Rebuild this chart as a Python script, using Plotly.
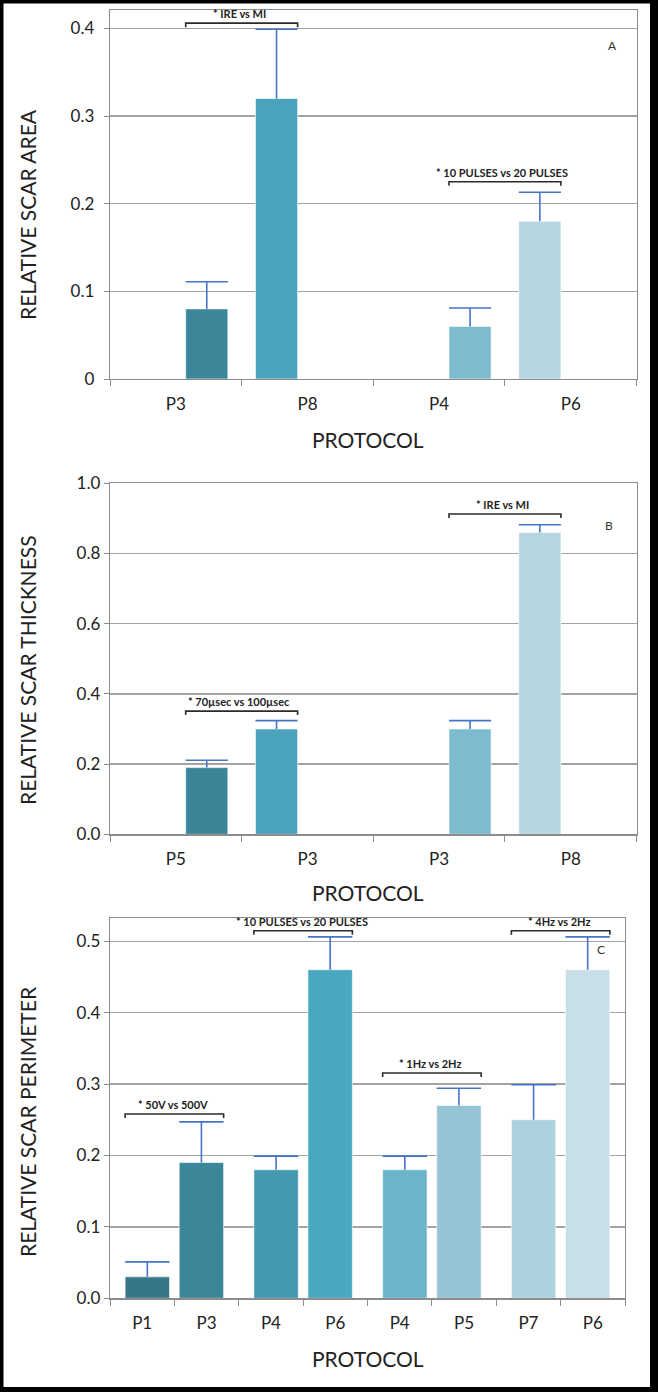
import plotly.graph_objects as go

W, H = 658, 1392

# ---------------- data ----------------
A_labels = ["P3", "P8", "P4", "P6"]
A_values = [0.08, 0.32, 0.06, 0.18]
A_errors = [0.031, 0.079, 0.021, 0.033]
A_colors = ["#3b8698", "#49a3bb", "#7ebbcf", "#b6d5e0"]
A_brackets = [(0, 1, 0.406, "* IRE vs MI"), (2, 3, 0.225, "* 10 PULSES vs 20 PULSES")]

B_labels = ["P5", "P3", "P3", "P8"]
B_values = [0.19, 0.30, 0.30, 0.86]
B_errors = [0.021, 0.024, 0.024, 0.022]
B_colors = ["#3a8597", "#4aa3ba", "#7fbbcf", "#b7d5e0"]
B_brackets = [(0, 1, 0.351, "* 70µsec vs 100µsec"), (2, 3, 0.9125, "* IRE vs MI")]

C_labels = ["P1", "P3", "P4", "P6", "P4", "P5", "P7", "P6"]
C_values = [0.03, 0.19, 0.18, 0.46, 0.18, 0.27, 0.25, 0.46]
C_errors = [0.021, 0.057, 0.019, 0.046, 0.019, 0.024, 0.049, 0.046]
C_colors = ["#377588", "#3b8799", "#4399b0", "#4aa7c0", "#6ab5cb", "#95c4d5", "#aed1de", "#c8dfe7"]
C_brackets = [(0, 1, 0.258, "* 50V vs 500V"), (2, 3, 0.5145, "* 10 PULSES vs 20 PULSES"),
              (4, 5, 0.3155, "* 1Hz vs 2Hz"), (6, 7, 0.5145, "* 4Hz vs 2Hz")]

panels = [
    dict(labels=A_labels, values=A_values, errors=A_errors, colors=A_colors, brackets=A_brackets,
         title="RELATIVE SCAR AREA", letter="A", letter_xy=(3.32, 0.381),
         box=(110, 636.6, 10, 379), yrange=[0, 0.421], dtick=0.1, tickformat="",
         shift=0.235, width=0.32, ystand=6, ytitle_y=215, xtitle_y=439),
    dict(labels=B_labels, values=B_values, errors=B_errors, colors=B_colors, brackets=B_brackets,
         title="RELATIVE SCAR THICKNESS", letter="B", letter_xy=(3.287, 0.881),
         box=(110, 636.6, 483.3, 834.3), yrange=[0, 1.0], dtick=0.2, tickformat=".1f",
         shift=0.235, width=0.32, ystand=0, ytitle_y=670, xtitle_y=893),
    dict(labels=C_labels, values=C_values, errors=C_errors, colors=C_colors, brackets=C_brackets,
         title="RELATIVE SCAR PERIMETER", letter="C", letter_xy=(7.127, 0.489),
         box=(110, 625, 918.3, 1298.3), yrange=[0, 0.532], dtick=0.1, tickformat=".1f",
         shift=0.08, width=0.69, ystand=0, ytitle_y=1122, xtitle_y=1358),
]

FONT = "Lato"
GRID = "#a3a3a3"
LINE = "#8c8c8c"
ERR = "#4675c6"
TXT = "#222222"

fig = go.Figure()
shapes = []
annotations = []

# white page on black frame
shapes.append(dict(type="rect", xref="paper", yref="paper", x0=3.5 / W, x1=650 / W,
                   y0=1 - 1387 / H, y1=1 - 3.5 / H, fillcolor="white", line=dict(width=0),
                   layer="below"))

for k, p in enumerate(panels):
    sfx = "" if k == 0 else str(k + 1)
    xa, ya = "x" + sfx, "y" + sfx
    n = len(p["labels"])
    idx = list(range(n))
    pos = [i + (p["shift"] if i % 2 == 0 else -p["shift"]) for i in idx]
    x0, x1, y0, y1 = p["box"]
    px_per_unit = (y1 - y0) / (p["yrange"][1] - p["yrange"][0])

    fig.add_trace(go.Bar(x=pos, y=p["values"], width=p["width"], xaxis=xa, yaxis=ya,
                         marker=dict(color=p["colors"], line=dict(color="rgba(255,255,255,0.6)", width=1)),
                         showlegend=False, hoverinfo="skip"))

    # upward-only error bars
    ex, ey = [], []
    hw = p["width"] / 2
    for c, v, e in zip(pos, p["values"], p["errors"]):
        ex += [c, c, None, c - hw, c + hw, None]
        ey += [v, v + e, None, v + e, v + e, None]
    fig.add_trace(go.Scatter(x=ex, y=ey, mode="lines", xaxis=xa, yaxis=ya,
                             line=dict(color=ERR, width=1.6), showlegend=False, hoverinfo="skip"))

    # significance brackets
    d = 4 / px_per_unit
    for i, j, yb, txt in p["brackets"]:
        bx0 = pos[i] - hw
        bx1 = pos[j] + hw
        shapes.append(dict(type="path", xref=xa, yref=ya,
                           path=f"M {bx0},{yb - d} L {bx0},{yb} L {bx1},{yb} L {bx1},{yb - d}",
                           line=dict(color="#2b2b2b", width=1.6)))
        annotations.append(dict(x=(bx0 + bx1) / 2 - 0.02, y=yb, xref=xa, yref=ya, text=txt,
                                showarrow=False, xanchor="center", yanchor="bottom", yshift=1,
                                font=dict(family=FONT, size=11, color=TXT, weight="bold")))

    annotations.append(dict(x=p["letter_xy"][0], y=p["letter_xy"][1], xref=xa, yref=ya,
                            text=p["letter"], showarrow=False, xanchor="center", yanchor="middle",
                            font=dict(family=FONT, size=12, color="#333333")))

    # axis titles
    annotations.append(dict(x=27 / W, y=1 - p["ytitle_y"] / H, xref="paper", yref="paper",
                            text=p["title"], textangle=-90, showarrow=False,
                            xanchor="center", yanchor="middle",
                            font=dict(family=FONT, size=21, color=TXT)))
    annotations.append(dict(x=368 / W, y=1 - p["xtitle_y"] / H, xref="paper", yref="paper",
                            text="PROTOCOL", showarrow=False, xanchor="center", yanchor="middle",
                            font=dict(family=FONT, size=21, color=TXT)))

    fig.layout["xaxis" + sfx] = dict(
        domain=[x0 / W, x1 / W], anchor=ya, range=[-0.5, n - 0.5], automargin=False,
        tickmode="array", tickvals=idx, ticktext=p["labels"], ticks="",
        ticklabelstandoff=9,
        minor=dict(tickmode="array", tickvals=[i - 0.5 for i in range(n + 1)],
                   ticks="outside", ticklen=6, tickcolor=LINE, showgrid=False),
        showline=True, mirror=True, linecolor=LINE, linewidth=1.3, showgrid=False,
        zeroline=False, tickfont=dict(family=FONT, size=17, color=TXT), fixedrange=True)
    fig.layout["yaxis" + sfx] = dict(
        domain=[1 - y1 / H, 1 - y0 / H], anchor=xa, range=p["yrange"], automargin=False,
        dtick=p["dtick"], tick0=0, tickformat=p["tickformat"],
        ticks="outside", ticklen=5, tickcolor=LINE, ticklabelstandoff=p["ystand"],
        showline=True, mirror=True, linecolor=LINE, linewidth=1.3,
        showgrid=True, gridcolor=GRID, gridwidth=1.3, zeroline=False,
        tickfont=dict(family=FONT, size=17, color=TXT), fixedrange=True)

fig.update_layout(template="none", width=W, height=H, margin=dict(l=0, r=0, t=0, b=0, pad=0),
                  paper_bgcolor="black", plot_bgcolor="white", autosize=False,
                  shapes=shapes, annotations=annotations, bargap=0)

fig.write_html("out.html", config={"displayModeBar": False, "staticPlot": True},
               post_script="document.body.style.margin='0';")
